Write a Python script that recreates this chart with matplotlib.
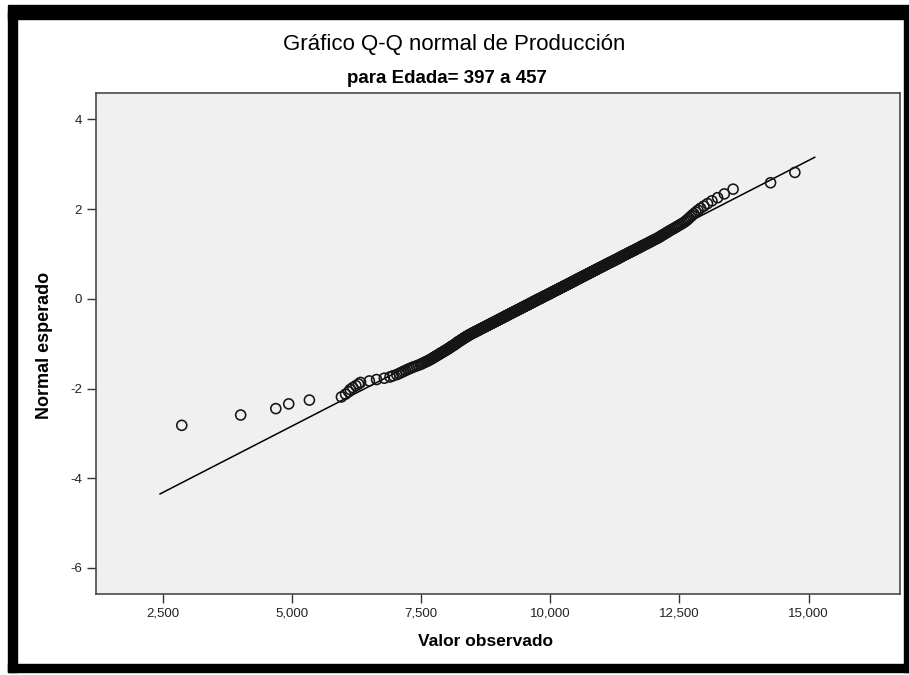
import matplotlib.pyplot as plt
from matplotlib.patches import Rectangle
from statistics import NormalDist

plt.rcParams['font.family'] = ['Liberation Sans', 'DejaVu Sans']
plt.rcParams['axes.unicode_minus'] = False

# Producción ordenada, grupo de edad 397 a 457
produccion = [
    2870, 4010, 4690, 4940, 5340, 5960, 6040, 6100, 6130, 6180,
    6240, 6290, 6330, 6500, 6640, 6790, 6900, 6960, 7030, 7080,
    7120, 7160, 7200, 7240, 7280, 7320, 7360, 7410, 7450, 7490,
    7520, 7550, 7580, 7610, 7640, 7660, 7690, 7710, 7730, 7750,
    7770, 7790, 7810, 7830, 7850, 7865, 7880, 7900, 7920, 7940,
    7955, 7970, 7990, 8005, 8020, 8035, 8050, 8065, 8075, 8090,
    8105, 8120, 8135, 8150, 8160, 8170, 8185, 8195, 8205, 8215,
    8230, 8245, 8255, 8270, 8280, 8295, 8305, 8315, 8330, 8340,
    8350, 8365, 8375, 8390, 8400, 8415, 8425, 8440, 8455, 8465,
    8480, 8490, 8505, 8520, 8530, 8545, 8560, 8570, 8585, 8600,
    8610, 8625, 8635, 8650, 8660, 8675, 8690, 8700, 8715, 8725,
    8740, 8750, 8760, 8775, 8785, 8800, 8810, 8820, 8835, 8845,
    8860, 8870, 8880, 8895, 8905, 8915, 8930, 8940, 8950, 8965,
    8975, 8985, 9000, 9010, 9020, 9030, 9045, 9055, 9065, 9075,
    9085, 9095, 9110, 9120, 9130, 9140, 9150, 9160, 9175, 9185,
    9195, 9205, 9215, 9225, 9240, 9250, 9260, 9270, 9280, 9290,
    9300, 9315, 9325, 9335, 9345, 9355, 9365, 9375, 9390, 9400,
    9410, 9420, 9430, 9440, 9450, 9460, 9470, 9480, 9490, 9500,
    9510, 9520, 9530, 9545, 9555, 9565, 9575, 9585, 9595, 9605,
    9615, 9625, 9635, 9645, 9655, 9665, 9675, 9685, 9695, 9705,
    9715, 9725, 9735, 9745, 9755, 9765, 9775, 9790, 9800, 9810,
    9820, 9830, 9840, 9850, 9860, 9870, 9880, 9890, 9900, 9910,
    9920, 9930, 9945, 9955, 9965, 9975, 9985, 9995, 10005, 10015,
    10025, 10035, 10045, 10055, 10065, 10075, 10085, 10095, 10105, 10120,
    10130, 10140, 10150, 10160, 10170, 10180, 10190, 10200, 10210, 10225,
    10235, 10245, 10255, 10265, 10275, 10285, 10295, 10305, 10320, 10330,
    10340, 10350, 10360, 10370, 10380, 10395, 10405, 10415, 10425, 10435,
    10445, 10460, 10470, 10480, 10490, 10500, 10510, 10520, 10535, 10545,
    10555, 10570, 10580, 10590, 10600, 10615, 10625, 10635, 10650, 10660,
    10670, 10685, 10695, 10705, 10720, 10730, 10740, 10755, 10765, 10780,
    10790, 10800, 10815, 10825, 10840, 10850, 10865, 10875, 10890, 10900,
    10915, 10925, 10940, 10950, 10965, 10980, 10990, 11005, 11020, 11030,
    11045, 11060, 11070, 11085, 11100, 11110, 11125, 11140, 11155, 11170,
    11185, 11200, 11215, 11230, 11245, 11260, 11275, 11290, 11305, 11320,
    11335, 11350, 11365, 11380, 11395, 11410, 11425, 11445, 11460, 11480,
    11495, 11510, 11530, 11545, 11565, 11580, 11600, 11620, 11640, 11655,
    11675, 11695, 11715, 11735, 11750, 11770, 11790, 11810, 11835, 11855,
    11880, 11900, 11920, 11945, 11965, 11990, 12015, 12040, 12065, 12090,
    12115, 12135, 12155, 12180, 12205, 12230, 12255, 12280, 12305, 12335,
    12365, 12400, 12430, 12460, 12495, 12530, 12565, 12600, 12630, 12660,
    12685, 12715, 12745, 12780, 12820, 12860, 12910, 12975, 13045, 13130,
    13240, 13370, 13540, 14265, 14735,
]

# recta de referencia normal
media = 9790
desv = 1688
recta_x = [2450, 15120]

xticks = [2500, 5000, 7500, 10000, 12500, 15000]
xtick_labels = ['2,500', '5,000', '7,500', '10,000', '12,500', '15,000']
yticks = [4, 2, 0, -2, -4, -6]

# normal esperado: rango / (n + 1)
n = len(produccion)
nd = NormalDist()
esperado = [nd.inv_cdf(i / (n + 1)) for i in range(1, n + 1)]
recta_y = [(v - media) / desv for v in recta_x]

fig = plt.figure(figsize=(9.09, 6.75), dpi=100)
ax = fig.add_axes([0.1056, 0.12, 0.8845, 0.7422])
ax.set_facecolor('#f0f0f0')

ax.plot(recta_x, recta_y, color='black', lw=1.1, zorder=2)
ax.scatter(produccion, esperado, s=52, facecolors='none', edgecolors='#151515',
           linewidths=1.15, zorder=3)

ax.set_xlim(1210, 16770)
ax.set_ylim(-6.58, 4.59)
ax.set_xticks(xticks)
ax.set_xticklabels(xtick_labels)
ax.set_yticks(yticks)
ax.tick_params(axis='both', direction='out', length=6.5, width=1, color='#333333',
               labelsize=9.5, labelcolor='#222222')
for s in ax.spines.values():
    s.set_color('#4a4a4a')
    s.set_linewidth(1.2)

ax.set_xlabel('Valor observado', fontsize=12.5, fontweight='bold')
ax.xaxis.set_label_coords(0.484, -0.08)
ax.set_ylabel('Normal esperado', fontsize=13, fontweight='bold')
ax.yaxis.set_label_coords(-0.054, 0.497)

fig.text(0.5, 0.934, 'Gráfico Q-Q normal de Producción', ha='center', va='center',
         fontsize=16)
fig.text(0.492, 0.884, 'para Edada= 397 a 457', ha='center', va='center',
         fontsize=13.5, fontweight='bold')

# marco negro exterior
fig.patches.append(Rectangle((0.009, 0.972), 0.991, 0.02, transform=fig.transFigure,
                             color='black', zorder=0))
fig.patches.append(Rectangle((0.009, 0.004), 0.01, 0.98, transform=fig.transFigure,
                             color='black', zorder=0))
fig.patches.append(Rectangle((0.009, 0.004), 0.991, 0.013, transform=fig.transFigure,
                             color='black', zorder=0))
fig.patches.append(Rectangle((0.9945, 0.004), 0.0055, 0.98, transform=fig.transFigure,
                             color='black', zorder=0))

fig.savefig('out.png', dpi=100)
